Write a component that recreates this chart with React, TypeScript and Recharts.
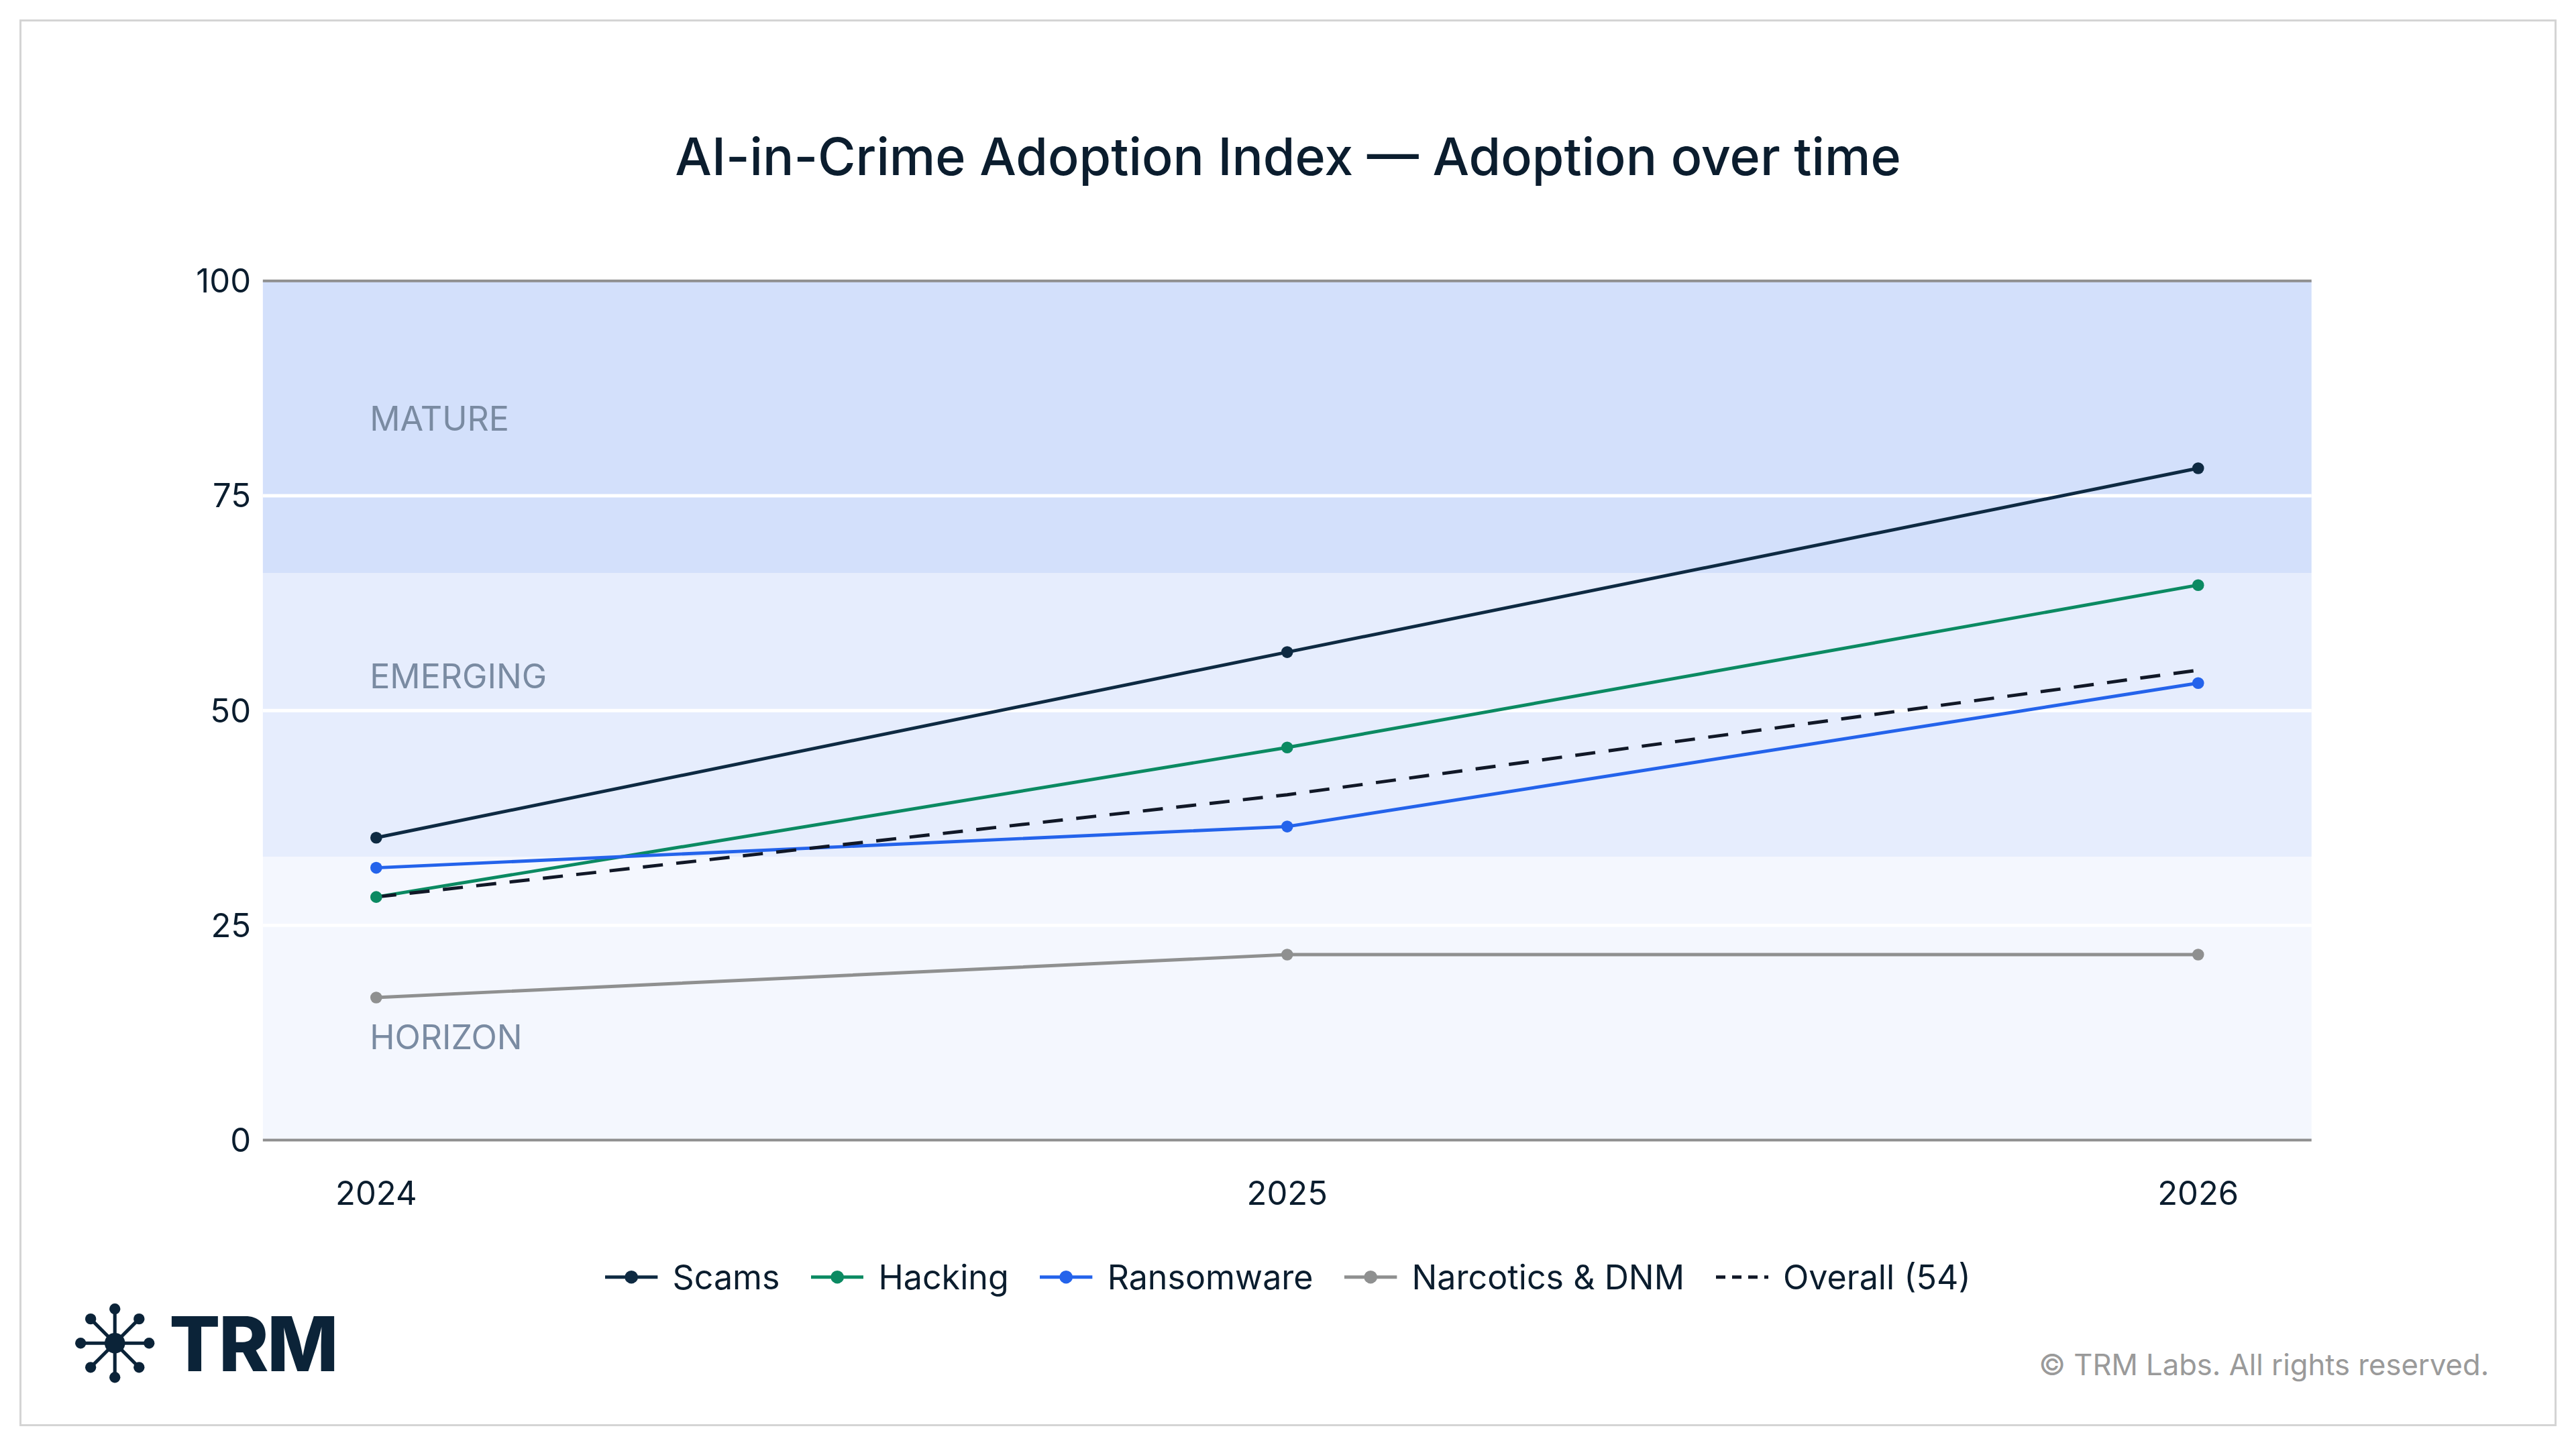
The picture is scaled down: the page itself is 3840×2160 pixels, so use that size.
import { LineChart, Line, XAxis, YAxis, ReferenceArea, ReferenceLine } from 'recharts';

const S = 2.449;
const years = [2024, 2025, 2026];
const scams = [35.2, 56.8, 78.2];
const hacking = [28.3, 45.7, 64.6];
const ransomware = [31.7, 36.5, 53.2];
const narcotics = [16.6, 21.6, 21.6];
const overall = [28.3, 40.2, 54.7];
const yTicks = [0, 25, 50, 75, 100];
const bands = [
    { name: 'HORIZON', from: 0, to: 33, fill: '#f4f7fe', labelAt: 12 },
    { name: 'EMERGING', from: 33, to: 66, fill: '#e6edfd', labelAt: 54 },
    { name: 'MATURE', from: 66, to: 100, fill: '#d3e0fb', labelAt: 84 },
];

const series = [
    { key: 'scams', label: 'Scams', color: '#0e2a42', dash: undefined as string | undefined },
    { key: 'hacking', label: 'Hacking', color: '#0b8a62', dash: undefined },
    { key: 'ransomware', label: 'Ransomware', color: '#2463eb', dash: undefined },
    { key: 'narcotics', label: 'Narcotics & DNM', color: '#8f9090', dash: undefined },
    { key: 'overall', label: 'Overall (54)', color: '#111827', dash: '30 20' },
];

const data = years.map((y, i) => ({
    year: y,
    scams: scams[i],
    hacking: hacking[i],
    ransomware: ransomware[i],
    narcotics: narcotics[i],
    overall: overall[i],
}));

const font = 'Inter, "Noto Sans", sans-serif';
const xPad = 69 / 554.5;
const xAxisH = 80;

function Logo() {
    const c = 24 * S;
    const arms = [0, 45, 90, 135, 180, 225, 270, 315];
    return (
        <svg width={50 * S} height={50 * S} viewBox={`0 0 ${48 * S} ${48 * S}`}>
            {arms.map((a) => {
                const r = (a * Math.PI) / 180;
                const x = c + Math.cos(r) * 20 * S;
                const y = c + Math.sin(r) * 20 * S;
                return (
                    <g key={a}>
                        <line x1={c} y1={c} x2={x} y2={y} stroke="#0b2338" strokeWidth={2 * S} />
                        <circle cx={x} cy={y} r={3.2 * S} fill="#0b2338" />
                    </g>
                );
            })}
            <circle cx={c} cy={c} r={6 * S} fill="#0b2338" />
        </svg>
    );
}

export default function App() {
    return (
        <div style={{ position: 'fixed', left: 0, top: 0, width: 3840, height: 2160, background: '#fff', fontFamily: font }}>
            <div style={{ position: 'absolute', left: 12 * S, top: 12 * S, width: 1544 * S, height: 856 * S, border: '3px solid #d4d4d4', boxSizing: 'border-box' }} />
            <div style={{ position: 'absolute', left: 0, width: 3840, top: 76 * S, textAlign: 'center', fontSize: 31.5 * S, fontWeight: 500, color: '#0b1d2e' }}>
                AI-in-Crime Adoption Index — Adoption over time
            </div>
            <div style={{ position: 'absolute', left: 0, top: 0 }}>
                <LineChart width={3840} height={2160} data={data} margin={{ top: 171 * S, right: 3840 - 1407 * S, bottom: 2160 - 694 * S - xAxisH, left: 0 }}>
                    <XAxis
                        dataKey="year"
                        type="number"
                        domain={[2024 - xPad, 2026 + xPad]}
                        ticks={years}
                        axisLine={{ stroke: '#8f8f8f', strokeWidth: 4 }}
                        tickLine={false}
                        tick={{ fontSize: 20 * S, fill: '#0b1d2e', fontFamily: font }}
                        dy={22 * S}
                        height={xAxisH}
                    />
                    <YAxis
                        domain={[0, 100]}
                        ticks={yTicks}
                        axisLine={false}
                        tickLine={false}
                        width={160 * S}
                        tick={{ fontSize: 20 * S, fill: '#0b1d2e', fontFamily: font }}
                        dx={-4 * S}
                    />
                    {bands.map((b) => (
                        <ReferenceArea key={b.name} y1={b.from} y2={b.to} fill={b.fill} fillOpacity={1} stroke="none" ifOverflow="visible" />
                    ))}
                    {[25, 50, 75].map((v) => (
                        <ReferenceLine key={v} y={v} stroke="#ffffff" strokeWidth={2 * S} />
                    ))}
                    <ReferenceLine y={100} stroke="#8f8f8f" strokeWidth={4} />
                    {bands.map((b) => (
                        <ReferenceLine
                            key={'l' + b.name}
                            y={b.labelAt}
                            stroke="none"
                            label={{ value: b.name, position: 'insideLeft', dx: 63 * S, fontSize: 20.5 * S, fill: '#7a8ba2', fontFamily: font }}
                        />
                    ))}
                    {series.map((s) => (
                        <Line
                            key={s.key}
                            dataKey={s.key}
                            stroke={s.color}
                            strokeWidth={2 * S}
                            strokeDasharray={s.dash}
                            dot={s.dash ? false : { r: 3.6 * S, fill: s.color, stroke: s.color, strokeWidth: 0 }}
                            isAnimationActive={false}
                        />
                    ))}
                </LineChart>
            </div>
            <div style={{ position: 'absolute', left: 0, width: 3840, top: 765 * S, display: 'flex', justifyContent: 'center', gap: 19 * S, fontSize: 20.5 * S, color: '#0b1d2e' }}>
                {series.map((s) => (
                    <div key={s.key} style={{ display: 'flex', alignItems: 'center', gap: 9 * S }}>
                        <svg width={32 * S} height={12 * S}>
                            <line x1={0} y1={6 * S} x2={32 * S} y2={6 * S} stroke={s.color} strokeWidth={2 * S} strokeDasharray={s.dash ? '14 10' : undefined} />
                            {!s.dash && <circle cx={16 * S} cy={6 * S} r={4 * S} fill={s.color} />}
                        </svg>
                        <span>{s.label}</span>
                    </div>
                ))}
            </div>
            <div style={{ position: 'absolute', left: 45 * S, top: 790 * S, display: 'flex', alignItems: 'center', gap: 8 * S }}>
                <Logo />
                <span style={{ fontSize: 46 * S, fontWeight: 800, color: '#0b2338', letterSpacing: -1 * S }}>TRM</span>
            </div>
            <div style={{ position: 'absolute', right: (1568 - 1515) * S, top: 820 * S, fontSize: 17.8 * S, color: '#9a9a9a' }}>
                © TRM Labs. All rights reserved.
            </div>
        </div>
    );
}
